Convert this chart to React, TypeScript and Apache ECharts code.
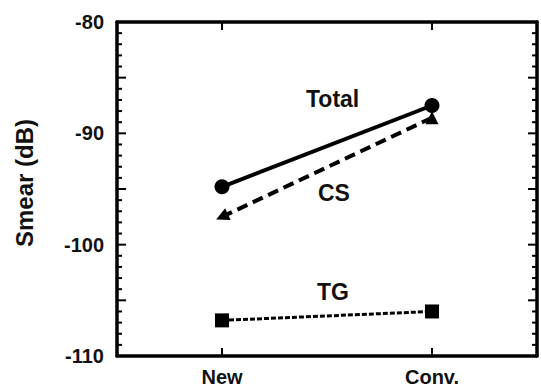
import React, { useEffect, useRef } from "react";
import * as echarts from "echarts";

const categories = ["New", "Conv."];
const totalValues = [-94.8, -87.5];
const csValues = [-97.5, -88.6];
const tgValues = [-106.8, -106.0];
const seriesNames = ["Total", "CS", "TG"];
const yTickLabels = ["-80", "-90", "-100", "-110"];
const yAxisTitle = "Smear (dB)";

const Y_MIN = -110;
const Y_MAX = -80;
const yTickValues: number[] = [];
for (let v = Y_MIN; v <= Y_MAX; v += 1) yTickValues.push(v);

const FONT = "'Liberation Sans', Arial, sans-serif";
const W = 541;
const H = 387;
const G = { left: 117, right: 4, top: 22, bottom: 31 };

function yAxisDef(position: string, labels: boolean) {
  return {
    type: "value",
    position,
    min: Y_MIN,
    max: Y_MAX,
    interval: 10,
    axisLine: { show: true, onZero: false, lineStyle: { color: "#000", width: 3.5 } },
    axisTick: { show: false },
    minorTick: { show: false },
    splitLine: { show: false },
    axisLabel: labels
      ? {
          show: true,
          color: "#111",
          fontFamily: FONT,
          fontWeight: "bold",
          fontSize: 20,
          margin: 13,
          formatter: (v: number) => (yTickLabels.includes(String(v)) ? String(v) : ""),
        }
      : { show: false },
  };
}

function xAxisDef(position: string, labels: boolean) {
  return {
    type: "category",
    position,
    data: categories,
    boundaryGap: true,
    axisLine: { show: true, onZero: false, lineStyle: { color: "#000", width: 3.5 } },
    axisTick: { show: false },
    splitLine: { show: false },
    axisLabel: labels
      ? { show: true, color: "#111", fontFamily: FONT, fontWeight: "bold", fontSize: 20, margin: 11 }
      : { show: false },
  };
}

export default function App() {
  const ref = useRef<HTMLDivElement>(null);
  useEffect(() => {
    if (!ref.current) return;
    const chart = echarts.init(ref.current, null, { renderer: "svg" });
    const labelStyle = { fontFamily: FONT, fontWeight: "bold", fontSize: 23, fill: "#111" };
    const tickStyle = { stroke: "#000", lineWidth: 2, fill: null };
    chart.setOption({
      animation: false,
      grid: { ...G },
      xAxis: [xAxisDef("bottom", true), xAxisDef("top", false)],
      yAxis: [yAxisDef("left", true), yAxisDef("right", false)],
      series: [
        {
          name: seriesNames[0],
          type: "line",
          data: totalValues,
          symbol: "circle",
          symbolSize: 15,
          itemStyle: { color: "#000" },
          lineStyle: { color: "#000", width: 4, type: "solid" },
          z: 3,
        },
        {
          name: seriesNames[1],
          type: "line",
          data: csValues.map((v, i) => (i === 0 ? { value: v, symbolRotate: 115 } : { value: v })),
          symbol: "triangle",
          symbolSize: 13,
          itemStyle: { color: "#000" },
          lineStyle: { color: "#000", width: 4, type: [11, 6] },
          z: 2,
        },
        {
          name: seriesNames[2],
          type: "line",
          data: tgValues,
          symbol: "rect",
          symbolSize: 14,
          itemStyle: { color: "#000" },
          lineStyle: { color: "#000", width: 3, type: [5, 2] },
          z: 2,
        },
        {
          name: "yTicks",
          type: "custom",
          silent: true,
          clip: false,
          z: 5,
          data: yTickValues.map((v) => [categories[0], v]),
          renderItem: (params: any, api: any) => {
            const v = api.value(1);
            const p = api.coord([api.value(0), v]);
            const cs = params.coordSys;
            const len = Math.round(v) % 5 === 0 ? 9 : 5;
            const x0 = cs.x;
            const x1 = cs.x + cs.width;
            return {
              type: "group",
              children: [
                { type: "line", shape: { x1: x0, y1: p[1], x2: x0 + len, y2: p[1] }, style: tickStyle },
                { type: "line", shape: { x1: x1 - len, y1: p[1], x2: x1, y2: p[1] }, style: tickStyle },
              ],
            };
          },
        },
        {
          name: "xTicks",
          type: "custom",
          silent: true,
          clip: false,
          z: 5,
          data: categories.map((c) => [c, Y_MIN]),
          renderItem: (params: any, api: any) => {
            const p = api.coord([api.value(0), api.value(1)]);
            const cs = params.coordSys;
            const y0 = cs.y;
            const y1 = cs.y + cs.height;
            return {
              type: "group",
              children: [
                { type: "line", shape: { x1: p[0], y1: y1, x2: p[0], y2: y1 - 8 }, style: tickStyle },
                { type: "line", shape: { x1: p[0], y1: y0, x2: p[0], y2: y0 + 8 }, style: tickStyle },
              ],
            };
          },
        },
      ],
      graphic: [
        {
          type: "text",
          x: 24,
          y: 183,
          rotation: Math.PI / 2,
          style: { text: yAxisTitle, align: "center", verticalAlign: "middle", fontFamily: FONT, fontWeight: "bold", fontSize: 24, fill: "#111" },
        },
        { type: "text", left: 306, top: 87, style: { text: seriesNames[0], ...labelStyle } },
        { type: "text", left: 318, top: 181, style: { text: seriesNames[1], ...labelStyle } },
        { type: "text", left: 317, top: 280, style: { text: seriesNames[2], ...labelStyle } },
      ],
    });
    return () => chart.dispose();
  }, []);
  return <div ref={ref} style={{ width: W, height: H, position: "absolute", left: 0, top: 0 }} />;
}
